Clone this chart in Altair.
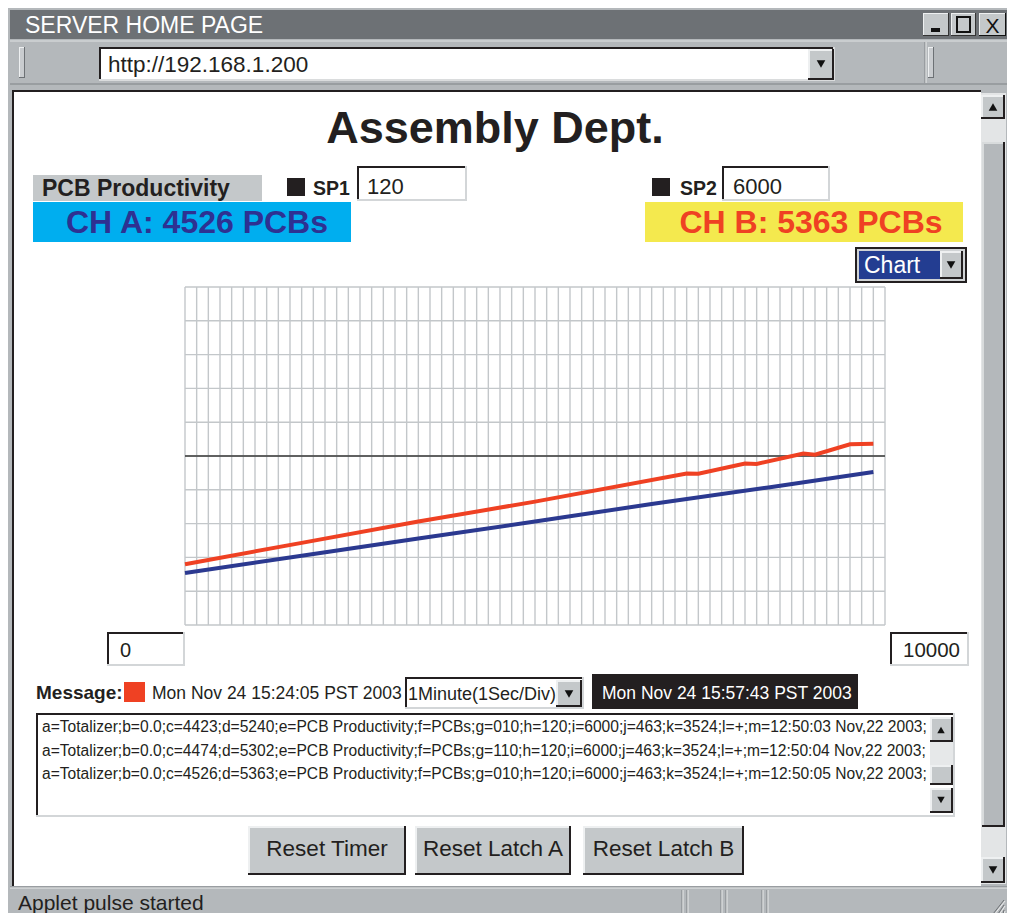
import altair as alt
import pandas as pd

# ---------------- data ----------------
grid_seconds = list(range(0, 61))            # 1 Sec/Div, 1 minute
grid_levels = list(range(0, 10001, 1000))    # 0 .. 10000
setpoint_line = [5000]

ch_a_t = [0, 10, 20, 30, 40, 50, 59]
ch_a_v = [1540, 2050, 2560, 3060, 3580, 4070, 4526]

ch_b_t = [0, 10, 20, 30, 43, 44, 48, 49, 53, 54, 57, 59]
ch_b_v = [1800, 2430, 3060, 3650, 4480, 4475, 4780, 4765, 5075, 5040, 5345, 5363]

log_lines = [
    "a=Totalizer;b=0.0;c=4423;d=5240;e=PCB Productivity;f=PCBs;g=010;h=120;i=6000;j=463;k=3524;l=+;m=12:50:03 Nov,22 2003;",
    "a=Totalizer;b=0.0;c=4474;d=5302;e=PCB Productivity;f=PCBs;g=110;h=120;i=6000;j=463;k=3524;l=+;m=12:50:04 Nov,22 2003;",
    "a=Totalizer;b=0.0;c=4526;d=5363;e=PCB Productivity;f=PCBs;g=010;h=120;i=6000;j=463;k=3524;l=+;m=12:50:05 Nov,22 2003;",
]

FONT = "Liberation Sans, Arial, sans-serif"
OFF = 8  # page margin
W, H = 999, 905

one = alt.Data(values=[{"k": 1}])
layers = []


def rect(x1, y1, x2, y2, fill, stroke=None, sw=0):
    kw = dict(fill=fill, opacity=1)
    if stroke:
        kw.update(stroke=stroke, strokeWidth=sw)
    else:
        kw.update(strokeWidth=0)
    layers.append(alt.Chart().mark_rect(**kw).encode(
        x=alt.value(x1 - OFF), x2=alt.value(x2 - OFF),
        y=alt.value(y1 - OFF), y2=alt.value(y2 - OFF)))


def bevel(x1, y1, x2, y2, fill, sunken=False, w=2, light="#eef0f1", dark="#231f20"):
    rect(x1, y1, x2, y2, fill)
    tl, br = (dark, light) if sunken else (light, dark)
    rect(x1, y1, x2, y1 + w, tl)
    rect(x1, y1, x1 + w, y2, tl)
    rect(x1, y2 - w, x2, y2, br)
    rect(x2 - w, y1, x2, y2, br)


def text(x, y, s, size, color="#231f20", bold=False, align="left"):
    layers.append(alt.Chart().mark_text(
        text=s, align=align, baseline="alphabetic", font=FONT, fontSize=size,
        fontWeight="bold" if bold else "normal", color=color).encode(
        x=alt.value(x - OFF), y=alt.value(y - OFF)))


def tri(x, y, up=False, size=75):
    layers.append(alt.Chart().mark_point(
        shape="triangle-up" if up else "triangle-down", filled=True, fill="#111111",
        size=size, opacity=1, strokeWidth=0).encode(
        x=alt.value(x - OFF), y=alt.value(y - OFF)))


def line(x1, y1, x2, y2, color, sw=1):
    layers.append(alt.Chart().mark_rule(color=color, strokeWidth=sw).encode(
        x=alt.value(x1 - OFF), y=alt.value(y1 - OFF),
        x2=alt.value(x2 - OFF), y2=alt.value(y2 - OFF)))


GRAY = "#b4b8bb"
BTN = "#c4c8ca"

# ---------------- window chrome ----------------
rect(3, 3, 1012, 919, GRAY, stroke="#8c9093", sw=1)
rect(10, 10, 1008, 39, "#6d7175")
text(25, 33, "SERVER HOME PAGE", 23, color="white")
# window buttons
bevel(923, 13, 949, 36, BTN, w=1, dark="#333333")
rect(931, 28, 940, 32, "#111111")
bevel(951, 13, 976, 36, BTN, w=1, dark="#333333")
rect(957, 17, 970, 32, BTN, stroke="#111111", sw=2)
bevel(979, 13, 1006, 36, BTN, w=1, dark="#111111")
text(992.5, 33, "X", 21, color="#111111", align="center")

# address row
line(10, 41, 1008, 41, "#dfe2e3", 1)
line(10, 84, 1008, 84, "#7f8386", 1)
line(925, 42, 925, 83, "#7f8386", 1)
line(926, 42, 926, 83, "#e8eaeb", 1)
bevel(19, 47, 25, 78, "#c9cccf", w=1, dark="#6d7175")
bevel(928, 47, 934, 78, "#c9cccf", w=1, dark="#6d7175")
bevel(99, 47, 835, 81, "white", sunken=True, light="#dadcdd")
text(108, 72, "http://192.168.1.200", 22.5)
bevel(808, 49, 834, 80, BTN, w=2)
tri(821, 64)

# content frame
rect(12, 90, 981, 886, "white")
rect(12, 90, 981, 92, "#231f20")
rect(12, 90, 14, 886, "#231f20")

# main scrollbar
rect(981, 93, 1006, 884, "#e3e5e6")
bevel(981, 95, 1005, 119, BTN)
tri(993, 107, up=True)
bevel(982, 142, 1005, 827, GRAY, light="#d8dbdc")
bevel(981, 857, 1005, 883, BTN)
tri(993, 870)

# status bar
line(10, 887, 1008, 887, "#7f8386", 1)
line(10, 888, 1008, 888, "#e8eaeb", 1)
for sx in (682, 687, 721, 726, 762, 767):
    line(sx, 890, sx, 916, "#7f8386", 1)
    line(sx + 1, 890, sx + 1, 916, "#e8eaeb", 1)
text(18, 910, "Applet pulse started", 21)
for k in range(3):
    line(1004, 900 + 5 * k, 993 + 5 * k, 914, "#6d7175", 1)
    line(1005, 901 + 5 * k, 994 + 5 * k, 915, "#eeeeee", 1)

# ---------------- page content ----------------
text(495, 143, "Assembly Dept.", 45, bold=True, align="center")

rect(33, 175, 262, 201, "#c4c8ca")
text(42, 196, "PCB Productivity", 23, bold=True)

rect(287, 178, 305, 196, "#231f20")
text(313, 195, "SP1", 19.5, bold=True)
bevel(357, 166, 467, 201, "white", sunken=True, light="#d3d6d8")
text(367, 194, "120", 22)

rect(652, 178, 670, 196, "#231f20")
text(680, 195, "SP2", 19.5, bold=True)
bevel(722, 166, 830, 201, "white", sunken=True, light="#d3d6d8")
text(733, 194, "6000", 22)

rect(33, 202, 351, 242, "#00aeef")
text(197, 233, "CH A: 4526 PCBs", 32, color="#2e3192", bold=True, align="center")
rect(645, 202, 963, 242, "#f4e94e")
text(811, 233, "CH B: 5363 PCBs", 32, color="#ef4123", bold=True, align="center")

# chart selector
rect(856, 248, 966, 282, "#d0d3d5", stroke="#231f20", sw=2)
rect(859, 251, 940, 279, "#233d91")
text(864, 273, "Chart", 23, color="white")
bevel(940, 251, 963, 279, BTN)
tri(951, 265)

# ---------------- the chart itself ----------------
xs = alt.Scale(domain=[0, 60], range=[185 - OFF, 885 - OFF], nice=False, zero=False)
ys = alt.Scale(domain=[0, 10000], range=[625 - OFF, 287 - OFF], nice=False, zero=False)

df_vx = pd.DataFrame({"t": grid_seconds, "lo": grid_levels[0], "hi": grid_levels[-1]})
df_hy = pd.DataFrame({"v": grid_levels, "lo": grid_seconds[0], "hi": grid_seconds[-1]})
df_sp = pd.DataFrame({"v": setpoint_line, "lo": grid_seconds[0], "hi": grid_seconds[-1]})
df_a = pd.DataFrame({"t": ch_a_t, "v": ch_a_v})
df_b = pd.DataFrame({"t": ch_b_t, "v": ch_b_v})

layers.append(alt.Chart(df_vx).mark_rule(color="#c3c7ca", strokeWidth=1.4).encode(
    x=alt.X("t:Q", scale=xs, axis=None),
    y=alt.Y("lo:Q", scale=ys, axis=None), y2="hi:Q"))
layers.append(alt.Chart(df_hy).mark_rule(color="#c3c7ca", strokeWidth=1.4).encode(
    y=alt.Y("v:Q", scale=ys, axis=None),
    x=alt.X("lo:Q", scale=xs, axis=None), x2="hi:Q"))
layers.append(alt.Chart(df_sp).mark_rule(color="#3a3a3a", strokeWidth=1.5).encode(
    y=alt.Y("v:Q", scale=ys, axis=None),
    x=alt.X("lo:Q", scale=xs, axis=None), x2="hi:Q"))
layers.append(alt.Chart(df_a).mark_line(color="#2b3990", strokeWidth=4).encode(
    x=alt.X("t:Q", scale=xs, axis=None), y=alt.Y("v:Q", scale=ys, axis=None)))
layers.append(alt.Chart(df_b).mark_line(color="#ef4123", strokeWidth=4).encode(
    x=alt.X("t:Q", scale=xs, axis=None), y=alt.Y("v:Q", scale=ys, axis=None)))

# min / max boxes
bevel(107, 632, 185, 666, "white", sunken=True, light="#d3d6d8")
text(120, 657, "0", 20)
bevel(890, 632, 969, 666, "white", sunken=True, light="#d3d6d8")
text(903, 657, "10000", 20.5)

# message row
text(36, 699, "Message:", 19, bold=True)
rect(124, 682, 145, 702, "#ef4123")
text(152, 699, "Mon Nov 24 15:24:05 PST 2003", 17.5)
bevel(405, 677, 584, 709, "white", sunken=True, light="#d3d6d8")
text(408, 700, "1Minute(1Sec/Div)", 18)
bevel(556, 680, 582, 707, BTN)
tri(569, 694)
rect(592, 674, 858, 709, "#231f20")
text(602, 699, "Mon Nov 24 15:57:43 PST 2003", 17.5, color="white")

# log text area
bevel(36, 713, 955, 817, "white", sunken=True, light="#d3d6d8")
for i, s in enumerate(log_lines):
    text(42, 732 + 23.5 * i, s, 15.6)
rect(930, 742, 953, 765, "#e6e8e9")
bevel(930, 717, 953, 742, BTN)
tri(941, 730, up=True, size=55)
bevel(930, 765, 953, 785, BTN)
bevel(930, 788, 953, 813, BTN)
tri(941, 800, size=55)

# buttons
for (x1, x2, lab) in [(248, 406, "Reset Timer"), (415, 571, "Reset Latch A"), (583, 744, "Reset Latch B")]:
    bevel(x1, 826, x2, 875, BTN, w=2)
    text((x1 + x2) / 2, 856, lab, 22.5, align="center")

chart = alt.layer(*layers, data=one).properties(
    width=W, height=H,
    autosize=alt.AutoSizeParams(type="none"),
    padding=0,
    background="white",
).configure_view(stroke=None, fill=None)

chart.save("out.html", embed_options={"renderer": "svg", "actions": False})
